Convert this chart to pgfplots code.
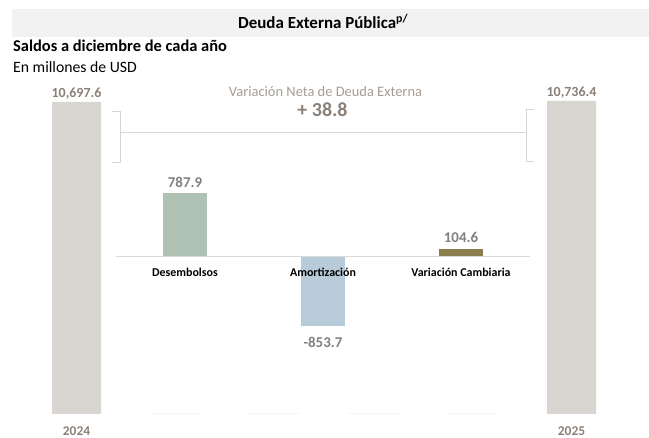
\documentclass[border=0pt]{standalone}
\usepackage{pgfplots}
\pgfplotsset{compat=1.18}
\usepackage{fontspec}
\setmainfont{Carlito}
\definecolor{band}{HTML}{F2F2F2}
\definecolor{bigbar}{HTML}{D9D5D0}
\definecolor{valbrown}{HTML}{8B8077}
\definecolor{lightbrown}{HTML}{A59D95}
\definecolor{desem}{HTML}{AFC1B3}
\definecolor{amort}{HTML}{B7CBD8}
\definecolor{vcamb}{HTML}{8A7E4F}
\definecolor{vgray}{HTML}{808080}
\definecolor{baseline}{HTML}{D9D9D9}
\definecolor{zeroline}{HTML}{E4E4E4}
\begin{document}
\begin{tikzpicture}[x=1bp,y=1bp]
\path[use as bounding box] (0,0) rectangle (649,438);
\fill[band] (12,438-37) rectangle (649,438-9);
\node[anchor=base west, font=\fontsize{17}{20}\selectfont\bfseries, inner sep=0] at (238,438-29) {Deuda Externa Pública\textsuperscript{p/}};
\node[anchor=base west, font=\fontsize{16.5}{20}\selectfont\bfseries, inner sep=0] at (13,438-52) {Saldos a diciembre de cada año};
\node[anchor=base west, font=\fontsize{15.8}{20}\selectfont, inner sep=0] at (13,438-73) {En millones de USD};

% bracket
\draw[bigbar, line width=1bp] (112,438-112) -- (120,438-112) -- (120,438-163) -- (112,438-163);
\draw[bigbar, line width=1bp] (120,438-133) -- (526,438-133);
\draw[bigbar, line width=1bp] (534,438-110) -- (526,438-110) -- (526,438-162) -- (534,438-162);
\node[anchor=base, font=\fontsize{14.5}{17}\selectfont, text=lightbrown, inner sep=0] at (325.5,438-97) {Variación Neta de Deuda Externa};
\node[anchor=base, font=\fontsize{20}{24}\selectfont\bfseries, text=valbrown, inner sep=0] at (322.5,438-117) {+ 38.8};

% stock bars
\begin{axis}[at={(27bp,24bp)}, anchor=south west, scale only axis,
  width=594bp, height=350bp, xmin=-0.5, xmax=5.5, ymin=0, ymax=12000,
  axis line style={draw=none}, major tick length=0pt, ytick=\empty,
  xtick={0,1,2,3,4,5}, xticklabels={2024,,,,,2025},
  xticklabel style={font=\fontsize{13.5}{16}\selectfont\bfseries, text=valbrown, inner sep=0pt, yshift=-12bp},
  clip=false,
  /pgf/number format/fixed, /pgf/number format/fixed zerofill,
  /pgf/number format/precision=1, /pgf/number format/1000 sep={,},
  /pgf/number format/assume math mode=true]
\addplot[ybar, bar width=49bp, bar shift=0pt, fill=bigbar, draw=none,
  nodes near coords, nodes near coords style={font=\fontsize{14}{17}\selectfont\bfseries, text=valbrown, yshift=-1bp}]
  coordinates {(0,10697.6) (5,10736.4)};
\addplot[ybar, bar width=51bp, bar shift=0pt, draw=zeroline, line width=1bp, fill=none]
  coordinates {(1,0) (2,0) (3,0) (4,0)};
\end{axis}

% flows
\begin{axis}[at={(116bp,100bp)}, anchor=south west, scale only axis,
  width=414bp, height=162bp, xmin=0.5, xmax=3.5, ymin=-1000, ymax=1000,
  axis x line=middle, axis y line=none, hide obscured x ticks=false,
  axis on top,
  x axis line style={draw=baseline, line width=1bp, -},
  major tick length=0pt, ytick=\empty,
  xtick={1,2,3}, xticklabels={Desembolsos,Amortización,Variación Cambiaria},
  xticklabel style={font=\fontsize{12}{14}\selectfont\bfseries, text=black, yshift=-8bp},
  clip=false, ybar,
  nodes near coords, nodes near coords style={font=\fontsize{15}{18}\selectfont\bfseries, text=vgray},
  /pgf/number format/fixed, /pgf/number format/fixed zerofill,
  /pgf/number format/precision=1,
  /pgf/number format/assume math mode=true]
\addplot[ybar, bar width=44bp, bar shift=0pt, fill=desem, draw=none,
  every node near coord/.append style={yshift=2bp}] coordinates {(1,787.9)};
\addplot[ybar, bar width=44bp, bar shift=0pt, fill=amort, draw=none,
  every node near coord/.append style={yshift=-7.5bp}] coordinates {(2,-853.7)};
\addplot[ybar, bar width=44bp, bar shift=0pt, fill=vcamb, draw=none,
  every node near coord/.append style={yshift=2bp}] coordinates {(3,104.6)};
\end{axis}
\end{tikzpicture}
\end{document}
